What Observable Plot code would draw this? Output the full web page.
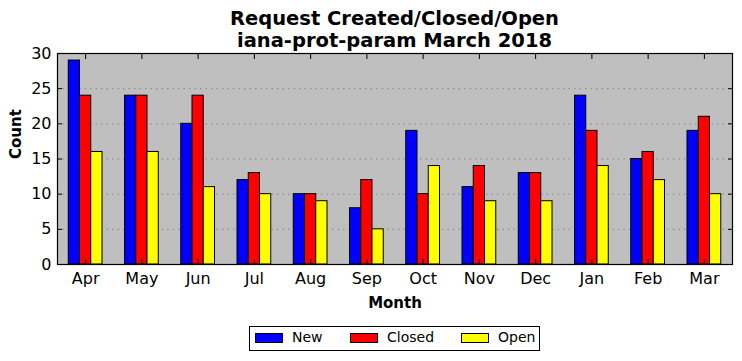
<!DOCTYPE html>
<html>
<head>
<meta charset="utf-8">
<script src="https://cdn.jsdelivr.net/npm/d3@7"></script>
<script src="https://cdn.jsdelivr.net/npm/@observablehq/plot@0.6"></script>
<style>
  body { margin: 0; background: #fff; font-family: "DejaVu Sans", sans-serif; }
  #wrap { position: relative; width: 742px; height: 361px; }
  #title { position: absolute; left: 57px; width: 675px; top: 8px; text-align: center;
           font-weight: bold; font-size: 19.5px; line-height: 22px; color: #000; }
  #legend { position: absolute; left: 249px; top: 326px; width: 289px; height: 23px;
            border: 1px solid #000; background: #fff; font-size: 14px; }
  .sw { position: absolute; top: 6px; width: 26px; height: 8px; border: 1px solid #000; }
  .lt { position: absolute; top: 2px; }
</style>
</head>
<body>
<div id="wrap">
  <div id="title">Request Created/Closed/Open<br>iana-prot-param March 2018</div>
  <div id="chart"></div>
  <div id="legend"></div>
</div>
<script>
const months = ["Apr","May","Jun","Jul","Aug","Sep","Oct","Nov","Dec","Jan","Feb","Mar"];
const seriesNames = ["New","Closed","Open"];
const seriesColors = ["#0000ff","#ff0000","#ffff00"];
const newV    = [29,24,20,12,10,8,19,11,13,24,15,19];
const closedV = [24,24,24,13,10,12,10,14,13,19,16,21];
const openV   = [16,16,11,10,9,5,14,9,9,14,12,10];
const yTicks  = [0,5,10,15,20,25,30];
const gridTicks = [5,10,15,20,25];

const seriesValues = [newV, closedV, openV];
const offsets = [-0.2, 0, 0.2];
const rows = [];
months.forEach((m, i) => {
  seriesNames.forEach((s, j) => {
    rows.push({i, month: m, series: s, value: seriesValues[j][i], x1: i + offsets[j] - 0.1, x2: i + offsets[j] + 0.1});
  });
});
const idx = d3.range(months.length);

const chart = Plot.plot({
  width: 742,
  height: 361,
  marginTop: 53,
  marginBottom: 97,
  marginLeft: 57,
  marginRight: 10,
  style: {fontFamily: "DejaVu Sans, sans-serif", background: "transparent", overflow: "visible"},
  x: {type: "linear", domain: [-0.5, 11.5]},
  y: {domain: [0, 30]},
  color: {domain: seriesNames, range: seriesColors},
  marks: [
    Plot.frame({fill: "#bfbfbf", stroke: "none"}),
    Plot.gridY(gridTicks, {stroke: "#888", strokeOpacity: 1, strokeDasharray: "1.5,4", strokeWidth: 1}),
    Plot.rectY(rows, {x1: "x1", x2: "x2", y: "value", fill: "series", stroke: "#000", strokeWidth: 1}),
    Plot.axisX(idx, {anchor: "bottom", tickSize: 0, tickPadding: 8, tickFormat: i => months[i], fontSize: 16, fill: "#000", label: null}),
    Plot.axisX(idx, {anchor: "bottom", tickSize: 5, dy: -5, stroke: "#000", tickFormat: () => "", label: null}),
    Plot.axisX(idx, {anchor: "top", tickSize: 5, dy: 5, stroke: "#000", tickFormat: () => "", label: null}),
    Plot.axisY(yTicks, {anchor: "left", tickSize: 0, tickPadding: 6, fontSize: 16, fill: "#000", label: null}),
    Plot.axisY(yTicks, {anchor: "left", tickSize: 5, dx: 5, stroke: "#000", tickFormat: () => "", label: null}),
    Plot.axisY(yTicks, {anchor: "right", tickSize: 5, dx: -5, stroke: "#000", tickFormat: () => "", label: null}),
    Plot.frame({stroke: "#000", strokeWidth: 1.2}),
    Plot.text(["Month"], {frameAnchor: "bottom", dy: 43, fontWeight: "bold", fontSize: 15, fill: "#000"}),
    Plot.text(["Count"], {frameAnchor: "left", dx: -41, rotate: -90, fontWeight: "bold", fontSize: 15, fill: "#000"})
  ]
});
document.getElementById("chart").appendChild(chart);

const legend = document.getElementById("legend");
const swX = [5, 100, 211];
seriesNames.forEach((s, j) => {
  const sw = document.createElement("div");
  sw.className = "sw";
  sw.style.left = swX[j] + "px";
  sw.style.background = seriesColors[j];
  legend.appendChild(sw);
  const t = document.createElement("div");
  t.className = "lt";
  t.style.left = (swX[j] + 37) + "px";
  t.textContent = s;
  legend.appendChild(t);
});
</script>
</body>
</html>
